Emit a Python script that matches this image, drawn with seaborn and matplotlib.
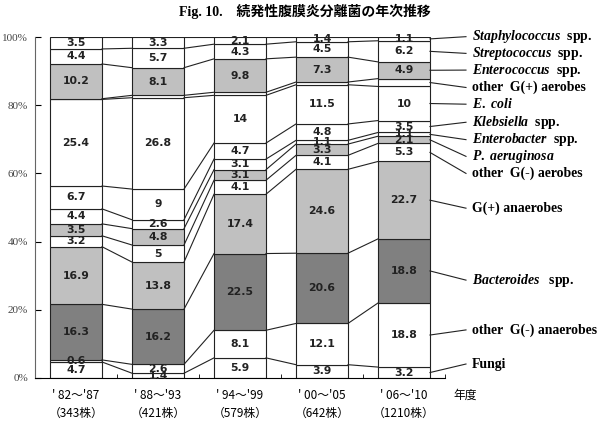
import numpy as np
import matplotlib.pyplot as plt
import seaborn as sns

# 年度と株数
periods = ["' 82～'87", "' 88～'93", "' 94～'99", "' 00～'05", "' 06～'10"]
strains = ["（343株）", "（421株）", "（579株）", "（642株）", "（1210株）"]

# 菌種 (下から上へ)
organisms = ["Fungi", "other G(-) anaerobes", "Bacteroides spp.", "G(+) anaerobes",
             "other G(-) aerobes", "P. aeruginosa", "Enterobacter spp.", "Klebsiella spp.",
             "E. coli", "other G(+) aerobes", "Enterococcus spp.", "Streptococcus spp.",
             "Staphylococcus spp."]

# 各年度の構成比 (%)
p82 = [4.7, 0.6, 16.3, 16.9, 3.2, 3.5, 4.4, 6.7, 25.4, 0.2, 10.2, 4.4, 3.5]
p88 = [1.4, 2.6, 16.2, 13.8, 5.0, 4.8, 2.6, 9.0, 26.8, 0.7, 8.1, 5.7, 3.3]
p94 = [5.9, 8.1, 22.5, 17.4, 4.1, 3.1, 3.1, 4.7, 14.0, 0.9, 9.8, 4.3, 2.1]
p00 = [3.9, 12.1, 20.6, 24.6, 4.1, 3.3, 1.1, 4.8, 11.5, 0.8, 7.3, 4.5, 1.4]
p06 = [3.2, 18.8, 18.8, 22.7, 5.3, 2.1, 1.1, 3.5, 10.0, 2.3, 4.9, 6.2, 1.1]

# 右側ラベル
right_labels = ["Fungi", "other  G(-) anaerobes", r"$\mathit{Bacteroides}$   spp.",
                "G(+) anaerobes", "other  G(-) aerobes", r"$\mathit{P.\ aeruginosa}$",
                r"$\mathit{Enterobacter}$  spp.", r"$\mathit{Klebsiella}$  spp.",
                r"$\mathit{E.\ coli}$", "other  G(+) aerobes", r"$\mathit{Enterococcus}$  spp.",
                r"$\mathit{Streptococcus}$  spp.", r"$\mathit{Staphylococcus}$  spp."]
label_y = [4.1, 14.1, 28.7, 49.8, 60.0, 65.0, 69.9, 75.0, 80.3, 85.2, 90.3, 95.2, 100.1]

light = '#c0c0c0'
dark = '#808080'
fills = ['white', 'white', dark, light, 'white', light, 'white', 'white', 'white',
         'white', light, 'white', 'white']

plt.rcParams['font.family'] = ['Noto Sans CJK JP', 'DejaVu Sans']
plt.rcParams['mathtext.fontset'] = 'custom'
plt.rcParams['mathtext.it'] = 'Liberation Serif:italic:bold'
plt.rcParams['mathtext.rm'] = 'Liberation Serif:bold'

fig = plt.figure(figsize=(6.09, 4.25), dpi=100)
ax = fig.add_axes([0.0575, 0.1106, 0.6732, 0.8023])

data = np.array([p82, p88, p94, p00, p06])
tops = np.cumsum(data, axis=1)
mids = tops - data / 2
w = 0.634

bottoms = np.zeros(len(periods))
for k in range(len(organisms)):
    sns.barplot(x=periods, y=data[:, k], bottom=bottoms, color=fills[k], saturation=1,
                edgecolor='#222222', linewidth=0.8, width=w, errorbar=None, ax=ax)
    bottoms = bottoms + data[:, k]

# 系列線
for k in range(len(organisms)):
    for i in range(len(periods) - 1):
        ax.plot([i + w / 2, i + 1 - w / 2], [tops[i, k], tops[i + 1, k]],
                color='#222222', lw=0.8)

# 数値
for i in range(len(periods)):
    for k in range(len(organisms)):
        if organisms[k] == 'other G(+) aerobes':
            continue
        ax.text(i, mids[i, k], f"{data[i, k]:g}", ha='center', va='center',
                fontsize=7.8, fontweight='bold', color='#222222', family=['DejaVu Sans'])

# 引き出し線とラベル
for k in range(len(organisms)):
    ax.plot([4 + w / 2, 4.756], [mids[4, k], label_y[k]], color='#222222', lw=0.8,
            clip_on=False)
    ax.text(4.83, label_y[k], right_labels[k], ha='left', va='center', fontsize=9.9,
            fontweight='bold', family=['Liberation Serif'], clip_on=False)

ax.set_xlim(-0.5, 4.5)
ax.set_ylim(0, 100)
ax.set_yticks(range(0, 101, 20))
ax.set_yticklabels([f"{v}%" for v in range(0, 101, 20)], family=['Liberation Serif'],
                   fontsize=8, color='#444444')
ax.set_xticks(range(len(periods)))
ax.set_xticklabels([f"{p}\n{s}" for p, s in zip(periods, strains)], fontsize=8.5,
                   linespacing=1.5)
ax.set_xticks(np.arange(0.5, 5, 1), minor=True)
ax.tick_params(axis='x', which='major', length=0, pad=8)
ax.tick_params(axis='x', which='minor', direction='in', length=3)
ax.tick_params(axis='y', direction='in', length=4, pad=5)
ax.text(4.6, -5.0, '年度', ha='left', va='center', fontsize=8.5, clip_on=False)
ax.set_xlabel('')
ax.set_ylabel('')

for side in ['top', 'right']:
    ax.spines[side].set_visible(False)
ax.spines['bottom'].set_linewidth(0.8)
ax.spines['left'].set_linewidth(0.8)
ax.spines['left'].set_color('#666666')

fig.text(0.5, 0.972, 'Fig. 10.　続発性腹膜炎分離菌の年次推移', ha='center', va='center',
         fontsize=10, fontweight='bold', family=['Liberation Serif', 'Noto Sans CJK JP'])

plt.savefig('out.png', dpi=100)
